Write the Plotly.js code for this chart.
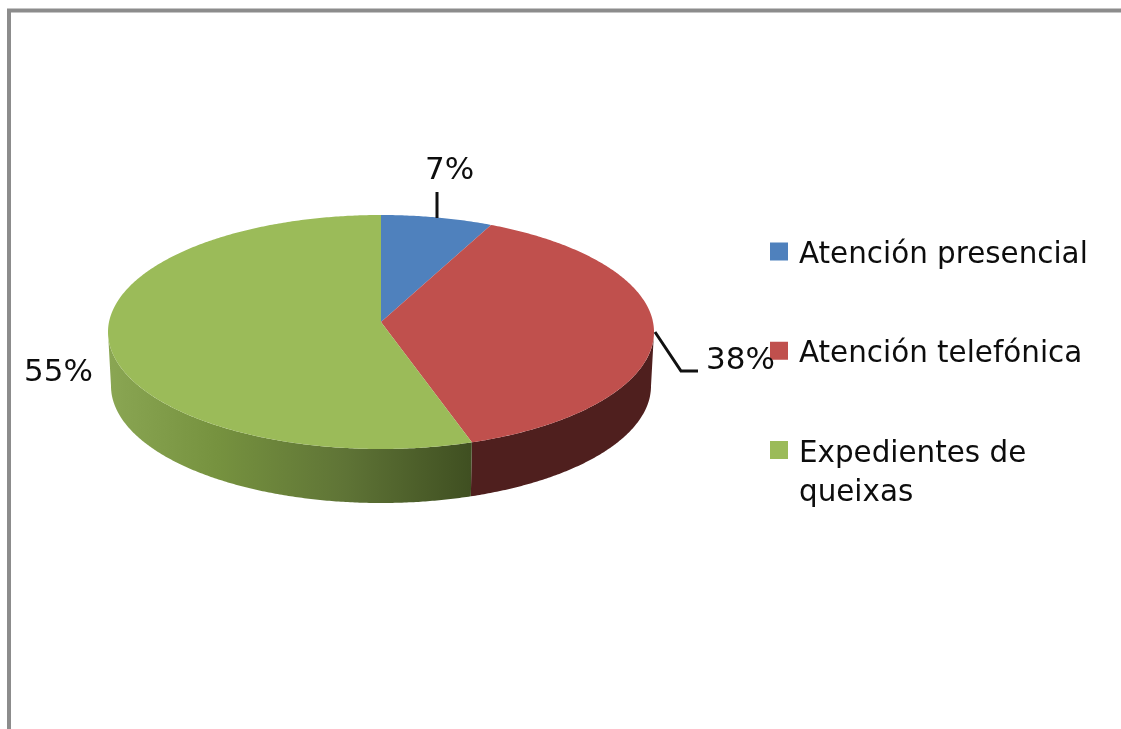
<!DOCTYPE html>
<html>
<head>
<meta charset="utf-8">
<script src="https://cdn.plot.ly/plotly-3.0.1.min.js"></script>
<style>html,body{margin:0;padding:0;background:#fff;overflow:hidden}#chart{width:1121px;height:729px;filter:blur(0.5px)}</style>
</head>
<body>
<div id="chart"></div>
<script>
// Data
const categories = ["Atención presencial", "Atención telefónica", "Expedientes de"];
const categoryWrap = "queixas";
const shares = [6.6, 38.0, 55.4];
const labels = ["7%", "38%", "55%"];
const topColors = ["#4f81bd", "#c0504d", "#9bbb59"];

// Drawing geometry (in the page-sized axis units)
const cx = 381, cy = 332, rx = 273, ry = 117, apexY = 322, depth = 54, bottomRx = 270;
const total = shares.reduce((a, b) => a + b, 0);
const pt = (deg, r, yc) => [cx + r * Math.sin(deg * Math.PI / 180), yc - ry * Math.cos(deg * Math.PI / 180)];
function arc(a, b, r, yc) {
  const out = [], n = Math.max(2, Math.ceil(Math.abs(b - a) / 0.5));
  for (let i = 0; i <= n; i++) out.push(pt(a + (b - a) * i / n, r, yc));
  return out;
}
const traces = [];
const poly = (pts, extra) => Object.assign({
  x: pts.map(p => p[0]), y: pts.map(p => p[1]), mode: "lines", fill: "toself",
  line: {width: 0, simplify: false}, showlegend: false, hoverinfo: "skip"
}, extra);

// slice angles
let acc = 0;
const bounds = shares.map(v => { const a = acc; acc += v / total * 360; return [a, acc]; });

// side wall: only the part facing the viewer (90 to 270 degrees)
const redA = Math.max(bounds[1][0], 90), redB = bounds[1][1];
traces.push(poly(arc(redA, redB, rx, cy).concat(arc(redB, redA, bottomRx, cy + depth)), {fillcolor: "#4f1f1e"}));
const grnA = bounds[2][0], grnB = 270;
traces.push(poly(arc(grnA, grnB, rx, cy).concat(arc(grnB, grnA, bottomRx, cy + depth)), {
  fillgradient: {type: "horizontal", colorscale: [[0, "#8aa653"], [0.3, "#76923f"], [0.65, "#5f7436"], [1, "#3f4f21"]]}
}));

// top faces
bounds.forEach((b, i) => {
  traces.push(poly([[cx, apexY]].concat(arc(b[0], b[1], rx, cy)), {fillcolor: topColors[i]}));
});

// leader lines
const leader = (xs, ys) => ({x: xs, y: ys, mode: "lines", line: {color: "#111", width: 3}, showlegend: false, hoverinfo: "skip"});
traces.push(leader([437, 437], [192, 218]));
traces.push(leader([655, 681, 698], [332, 371, 371]));

// legend entries
categories.forEach((c, i) => {
  traces.push({x: [-100], y: [-100], name: c, mode: "markers", legendgroup: "g" + i,
    marker: {symbol: "square", size: 16, color: topColors[i], line: {width: 2, color: topColors[i]}}, hoverinfo: "skip"});
});

const ink = "#0d0d0d";
const lab = (t, x, y) => ({text: t, x: x, y: y, xref: "x", yref: "y", showarrow: false, xanchor: "center", yanchor: "middle",
  font: {family: "DejaVu Sans", size: 31, color: ink}});
const legendSize = 29.4;

Plotly.newPlot("chart", traces, {
  width: 1121, height: 729,
  margin: {l: 0, r: 0, t: 0, b: 0},
  paper_bgcolor: "#fff", plot_bgcolor: "#fff",
  xaxis: {range: [0, 1121], visible: false, fixedrange: true},
  yaxis: {range: [729, 0], visible: false, fixedrange: true},
  showlegend: true,
  legend: {x: 759 / 1121, y: 1 - 226 / 729, xanchor: "left", yanchor: "top", traceorder: "grouped", tracegroupgap: 58,
    bgcolor: "rgba(0,0,0,0)", itemsizing: "trace", itemclick: false, itemdoubleclick: false,
    font: {family: "DejaVu Sans", size: legendSize, color: ink}},
  annotations: [lab(labels[0], 449, 168), lab(labels[1], 740, 358), lab(labels[2], 58, 370),
    {text: categoryWrap, x: 799, y: 491, xref: "x", yref: "y", showarrow: false, xanchor: "left", yanchor: "middle", xshift: -2,
     font: {family: "DejaVu Sans", size: legendSize, color: ink}}],
  shapes: [{type: "path", xref: "x", yref: "y", path: "M 9 729 L 9 10.5 L 1121 10.5", line: {color: "#8c8c8c", width: 4}}]
}, {displayModeBar: false});
</script>
</body>
</html>
